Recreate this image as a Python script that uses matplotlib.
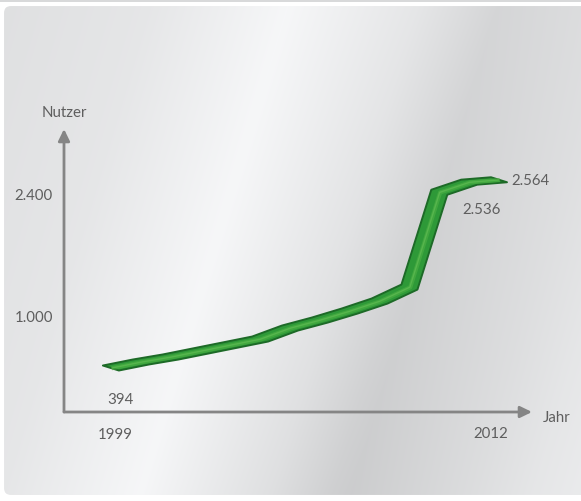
import numpy as np
import matplotlib
matplotlib.use("Agg")
import matplotlib.pyplot as plt
from matplotlib.patches import FancyBboxPatch, Rectangle

# ---- data ----
years = [1999, 2000, 2001, 2002, 2003, 2004, 2005, 2006, 2007, 2008, 2009, 2010, 2011, 2012]
users = [394, 463, 521, 590, 659, 728, 855, 947, 1051, 1166, 1327, 2420, 2536, 2564]
ytick_vals = [1000, 2400]
ytick_labels = ["1.000", "2.400"]
xlabels = ["1999", "2012"]
point_labels = {0: "394", 12: "2.536", 13: "2.564"}

W, H = 581, 502
plt.rcParams['font.family'] = ['Lato', 'DejaVu Sans']
TXT = '#5e5e5e'
AX = '#858585'
FS = 10.8

fig = plt.figure(figsize=(W / 100, H / 100), dpi=100)
fig.patch.set_facecolor('white')

# ---- metallic background panel ----
bg = fig.add_axes([0, 0, 1, 1])
bg.set_xlim(0, W)
bg.set_ylim(H, 0)
bg.axis('off')
X, Y = np.meshgrid(np.arange(W) + 0.5, np.arange(H) + 0.5)
u = X + 0.3 * Y
L = np.interp(u, [0, 150, 290, 420, 500, 620, 760],
              [0.875, 0.90, 0.965, 0.90, 0.835, 0.875, 0.93])
L = L - 0.04 * (Y / H) * np.clip(1 - np.abs(u - 480) / 200, 0, 1)
img = np.dstack([L, L + 0.003, L + 0.008]).clip(0, 1)
im = bg.imshow(img, extent=(0, W, H, 0), zorder=0, interpolation='bilinear')
panel = FancyBboxPatch((3, 6), 600, 491, boxstyle='round,pad=0,rounding_size=8',
                       transform=bg.transData, facecolor='none', edgecolor='white', lw=1.5, zorder=1)
bg.add_patch(panel)
im.set_clip_path(panel)
bg.add_patch(Rectangle((0, 0), W, 3, facecolor='#d8d9da', edgecolor='none', zorder=2))

# ---- main axes ----
ax_l, ax_b, ax_r, ax_t = 64, 413, 532, 130
ax = fig.add_axes([ax_l / W, (H - ax_b) / H, (ax_r - ax_l) / W, (ax_b - ax_t) / H])
ax.patch.set_alpha(0)
ax.set_xlim(1997.43, 2013.105)
ax.set_ylim(-113, 3149)
for s in ax.spines.values():
    s.set_visible(False)
ax.set_xticks([])
ax.set_yticks(ytick_vals)
ax.set_yticklabels(ytick_labels)
ax.tick_params(axis='y', length=0, pad=8, labelsize=FS, labelcolor=TXT)

arrow = dict(arrowstyle='-|>,head_length=0.35,head_width=0.17', color=AX, lw=2,
             shrinkA=0, shrinkB=0, mutation_scale=20)
ax.annotate('', xy=(1, 0), xytext=(0, 0), xycoords='axes fraction', arrowprops=arrow)
ax.annotate('', xy=(0, 1), xytext=(0, 0), xycoords='axes fraction', arrowprops=arrow)

# ---- ribbon ----
px_per_year = (ax_r - ax_l) / (ax.get_xlim()[1] - ax.get_xlim()[0])
px_per_unit = (ax_b - ax_t) / (ax.get_ylim()[1] - ax.get_ylim()[0])
hx = 8 / px_per_year      # half ribbon offset, horizontal
hy = 2.5 / px_per_unit    # half ribbon offset, vertical
xs = np.array(years, dtype=float)
ys = np.array(users, dtype=float)
upx, upy = xs - hx, ys + hy
lox, loy = xs + hx, ys - hy
ax.fill(np.concatenate([upx, lox[::-1]]), np.concatenate([upy, loy[::-1]]),
        facecolor='#2e9938', edgecolor='#1d6a27', lw=1.4, zorder=3, joinstyle='round')
ax.plot(xs + hx * 0.1, ys - hy * 0.1, color='#4fb244', lw=3.0, alpha=0.6, zorder=4,
        solid_joinstyle='round', solid_capstyle='butt')
ax.plot(xs + hx * 0.05, ys - hy * 0.05, color='#6cc45c', lw=1.0, alpha=0.5, zorder=4,
        solid_joinstyle='round', solid_capstyle='butt')

# ---- labels ----
def pt(px):
    return px * 72 / 100

lab_off = {0: (10, -31, 'center'), 12: (12, -27, 'center'), 13: (12, 0, 'left')}
for i, txt in point_labels.items():
    dx, dy, ha = lab_off[i]
    ax.annotate(txt, xy=(years[i], users[i]), xytext=(pt(dx), pt(dy)), textcoords='offset points',
                ha=ha, va='center', fontsize=FS, color=TXT, zorder=5)

ax.annotate(xlabels[0], xy=(years[0], 0), xycoords=('data', 'axes fraction'),
            xytext=(pt(4), pt(-22)), textcoords='offset points', ha='center', va='center',
            fontsize=FS, color=TXT)
ax.annotate(xlabels[1], xy=(years[-1], 0), xycoords=('data', 'axes fraction'),
            xytext=(pt(-8), pt(-21)), textcoords='offset points', ha='center', va='center',
            fontsize=FS, color=TXT)
ax.annotate('Nutzer', xy=(0, 1), xycoords='axes fraction', xytext=(0, pt(17)),
            textcoords='offset points', ha='center', va='center', fontsize=FS, color=TXT)
ax.annotate('Jahr', xy=(1, 0), xycoords='axes fraction', xytext=(pt(11), pt(-5)),
            textcoords='offset points', ha='left', va='center', fontsize=FS, color=TXT)

fig.savefig('out.png', dpi=100)
